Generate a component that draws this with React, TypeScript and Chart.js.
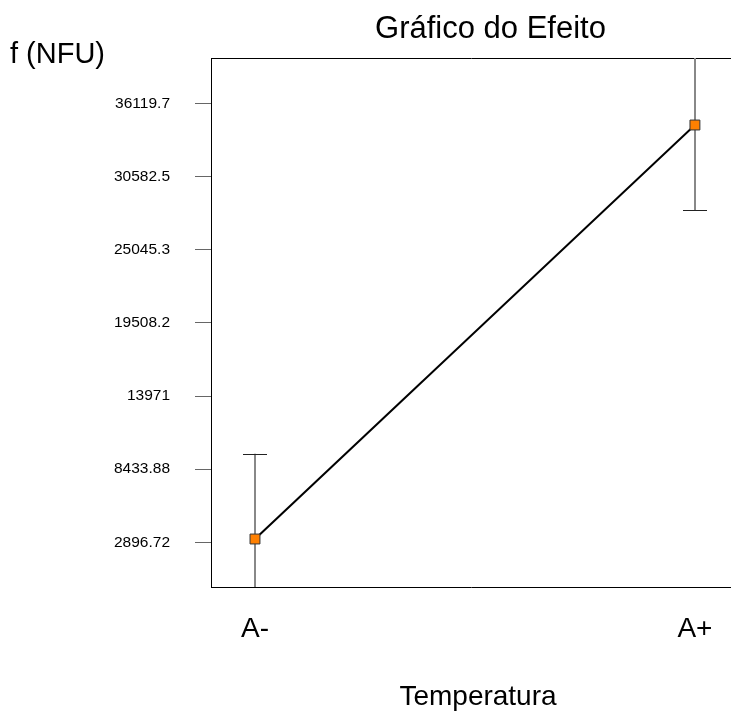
import { useEffect, useRef } from "react";
import { Chart, registerables } from "chart.js";

Chart.register(...registerables);

// Factor levels and their positions on the horizontal axis
const X_LABELS = ["A-", "A+"];
const X_POSITIONS = [0, 1];

// Mean response at each level and the half-width of its error bar
const MEANS = [3147, 34506];
const ERRORS = [6465, 6465];

// Vertical axis tick labels (evenly spaced)
const Y_TICK_LABELS = ["2896.72", "8433.88", "13971", "19508.2", "25045.3", "30582.5", "36119.7"];

const Y_MIN = -489;
const Y_MAX = 39581;
const X_MIN = -0.1;
const X_MAX = 1.082;

const TITLE = "Gráfico do Efeito";
const Y_TITLE = "f (NFU)";
const X_TITLE = "Temperatura";

const FONT = "'Liberation Sans', Arial, Helvetica, sans-serif";

// Vertical error bars with caps, clipped to the plot area
const errorBarsPlugin = {
  id: "errorBars",
  beforeDatasetsDraw(chart: any) {
    const { ctx, chartArea, scales } = chart;
    const xs = scales.x;
    const ys = scales.y;
    ctx.save();
    ctx.beginPath();
    ctx.rect(chartArea.left, chartArea.top, chartArea.right - chartArea.left, chartArea.bottom - chartArea.top);
    ctx.clip();
    MEANS.forEach((m, i) => {
      const x = Math.round(xs.getPixelForValue(X_POSITIONS[i]));
      const yHi = ys.getPixelForValue(m + ERRORS[i]);
      const yLo = ys.getPixelForValue(m - ERRORS[i]);
      ctx.strokeStyle = "#888888";
      ctx.lineWidth = 2;
      ctx.beginPath();
      ctx.moveTo(x, yHi);
      ctx.lineTo(x, yLo);
      ctx.stroke();
      ctx.strokeStyle = "#222222";
      ctx.lineWidth = 1;
      [yHi, yLo].forEach((y) => {
        const yy = Math.round(y) + 0.5;
        ctx.beginPath();
        ctx.moveTo(x - 12, yy);
        ctx.lineTo(x + 12, yy);
        ctx.stroke();
      });
    });
    ctx.restore();
  },
};

// Chart title, vertical-axis caption and horizontal-axis caption
const captionsPlugin = {
  id: "captions",
  afterDraw(chart: any) {
    const { ctx } = chart;
    ctx.save();
    ctx.fillStyle = "#000000";
    ctx.textBaseline = "alphabetic";

    ctx.font = `31px ${FONT}`;
    ctx.textAlign = "center";
    ctx.fillText(TITLE, 490.5, 38);

    ctx.font = `29px ${FONT}`;
    ctx.textAlign = "left";
    ctx.fillText(Y_TITLE, 10, 63);

    ctx.font = `28px ${FONT}`;
    ctx.textAlign = "center";
    ctx.fillText(X_TITLE, 478, 705);
    ctx.restore();
  },
};

const noSidePadding = (s: any) => {
  s.paddingLeft = 0;
  s.paddingRight = 0;
  s.paddingTop = 0;
  s.paddingBottom = 0;
};

export default function App() {
  const canvasRef = useRef<HTMLCanvasElement | null>(null);

  useEffect(() => {
    const canvas = canvasRef.current;
    if (!canvas) return;

    const chart = new Chart(canvas, {
      type: "line",
      data: {
        datasets: [
          {
            data: MEANS.map((y, i) => ({ x: X_POSITIONS[i], y })),
            borderColor: "#000000",
            borderWidth: 2,
            pointStyle: "rect",
            pointRadius: 7,
            pointBackgroundColor: "#FF8000",
            pointBorderColor: "#333333",
            pointBorderWidth: 1,
            fill: false,
          },
        ],
      },
      options: {
        responsive: true,
        maintainAspectRatio: false,
        animation: false,
        devicePixelRatio: 1,
        layout: { padding: 0, autoPadding: false },
        plugins: {
          legend: { display: false },
          tooltip: { enabled: false },
          title: { display: false },
        },
        scales: {
          x: {
            type: "linear",
            position: "bottom",
            min: X_MIN,
            max: X_MAX,
            bounds: "data",
            afterBuildTicks: (s: any) => {
              s.ticks = X_POSITIONS.map((v) => ({ value: v }));
            },
            afterFit: (s: any) => {
              s.height = 124;
              noSidePadding(s);
            },
            ticks: {
              callback: (v: any) => X_LABELS[X_POSITIONS.indexOf(Number(v))],
              font: { family: FONT, size: 28 },
              color: "#000000",
              padding: 25,
              maxRotation: 0,
              autoSkip: false,
            },
            grid: { display: false, drawTicks: false },
            border: { display: true, color: "#000000", width: 1 },
          },
          xTop: {
            type: "linear",
            position: "top",
            min: 0,
            max: 1,
            afterFit: (s: any) => {
              s.height = 58;
              noSidePadding(s);
            },
            ticks: { display: false },
            grid: { display: false, drawTicks: false },
            border: { display: true, color: "#000000", width: 1 },
          },
          y: {
            type: "linear",
            position: "left",
            min: Y_MIN,
            max: Y_MAX,
            bounds: "data",
            afterBuildTicks: (s: any) => {
              s.ticks = Y_TICK_LABELS.map((l) => ({ value: Number(l) }));
            },
            afterFit: (s: any) => {
              s.width = 211;
              noSidePadding(s);
            },
            ticks: {
              callback: (_v: any, i: number) => Y_TICK_LABELS[i],
              font: { family: FONT, size: 15.5 },
              color: "#000000",
              padding: 25,
              autoSkip: false,
            },
            grid: {
              display: true,
              drawOnChartArea: false,
              drawTicks: true,
              tickLength: 16,
              color: "#666666",
              lineWidth: 1,
            },
            border: { display: true, color: "#000000", width: 1 },
          },
        },
      },
      plugins: [errorBarsPlugin, captionsPlugin],
    } as any);

    return () => chart.destroy();
  }, []);

  return (
    <div style={{ position: "fixed", left: 0, top: 0, width: 731, height: 711, background: "#ffffff" }}>
      <canvas ref={canvasRef} />
    </div>
  );
}
